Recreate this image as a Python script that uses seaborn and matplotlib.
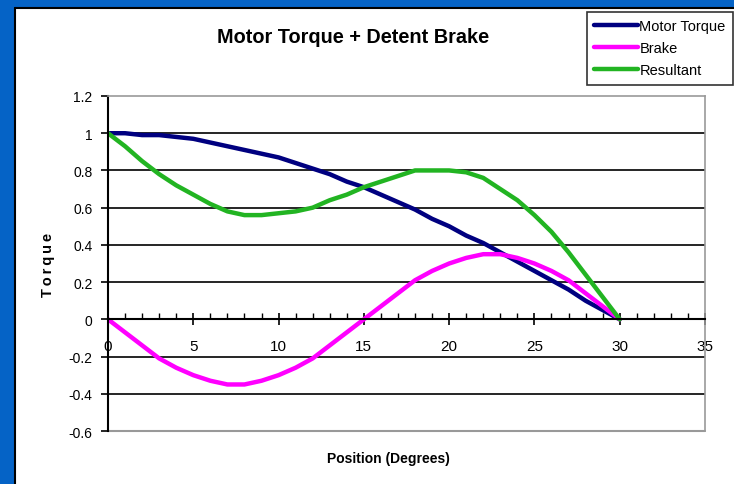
import numpy as np
import pandas as pd
import matplotlib
matplotlib.use('Agg')
import matplotlib.pyplot as plt
import seaborn as sns
from matplotlib.patches import Rectangle
from matplotlib.ticker import MultipleLocator

# positions (degrees)
position = list(range(31))

# values
motor_torque = [1.00, 1.00, 0.99, 0.99, 0.98, 0.97, 0.95, 0.93, 0.91, 0.89,
                0.87, 0.84, 0.81, 0.78, 0.74, 0.71, 0.67, 0.63, 0.59, 0.54,
                0.50, 0.45, 0.41, 0.36, 0.31, 0.26, 0.21, 0.16, 0.10, 0.05, 0.00]
brake = [0.00, -0.07, -0.14, -0.21, -0.26, -0.30, -0.33, -0.35, -0.35, -0.33,
         -0.30, -0.26, -0.21, -0.14, -0.07, 0.00, 0.07, 0.14, 0.21, 0.26,
         0.30, 0.33, 0.35, 0.35, 0.33, 0.30, 0.26, 0.21, 0.14, 0.07, 0.00]
resultant = [1.00, 0.93, 0.85, 0.78, 0.72, 0.67, 0.62, 0.58, 0.56, 0.56,
             0.57, 0.58, 0.60, 0.64, 0.67, 0.71, 0.74, 0.77, 0.80, 0.80,
             0.80, 0.79, 0.76, 0.70, 0.64, 0.56, 0.47, 0.36, 0.24, 0.12, 0.00]

series_names = ['Motor Torque', 'Brake', 'Resultant']
series_colors = ['#000080', '#FF00FF', '#22B422']

sns.set_theme(style='white')
plt.rcParams['font.family'] = ['Liberation Sans', 'DejaVu Sans']
# plain black text like the original spreadsheet chart
plt.rcParams['text.color'] = 'black'
plt.rcParams['axes.labelcolor'] = 'black'
plt.rcParams['xtick.color'] = 'black'
plt.rcParams['ytick.color'] = 'black'

df = pd.DataFrame({'Position': position * 3,
                   'Torque': motor_torque + brake + resultant,
                   'Series': np.repeat(series_names, len(position))})

fig = plt.figure(figsize=(7.34, 4.85), dpi=100)
fig.patch.set_facecolor('white')

# blue frame strips (left and top) and black border of the white panel
fig.add_artist(Rectangle((0, 0), 15 / 734, 1, transform=fig.transFigure,
                         facecolor='#0563C6', edgecolor='none', zorder=0))
fig.add_artist(Rectangle((0, 1 - 9 / 485), 1, 9 / 485, transform=fig.transFigure,
                         facecolor='#0563C6', edgecolor='none', zorder=0))
fig.add_artist(plt.Line2D([15 / 734, 15 / 734], [0, 1 - 9 / 485], transform=fig.transFigure,
                          color='black', lw=1.5))
fig.add_artist(plt.Line2D([15 / 734, 1], [1 - 9 / 485, 1 - 9 / 485], transform=fig.transFigure,
                          color='black', lw=1.5))

ax = fig.add_axes([108 / 734, 1 - 432 / 485, 597 / 734, 335 / 485])
sns.lineplot(data=df, x='Position', y='Torque', hue='Series', palette=series_colors,
             linewidth=3.2, ax=ax, legend=False)

ax.set_xlim(0, 35)
ax.set_ylim(-0.6, 1.2)
ax.set_yticks(np.arange(-0.6, 1.21, 0.2))
ax.set_yticklabels(['-0.6', '-0.4', '-0.2', '0', '0.2', '0.4', '0.6', '0.8', '1', '1.2'],
                   fontsize=10)
ax.set_xticks(range(0, 36, 5))
ax.set_xticklabels([str(v) for v in range(0, 36, 5)], fontsize=10)
ax.xaxis.set_minor_locator(MultipleLocator(1))

for yv in np.arange(-0.4, 1.01, 0.2):
    ax.axhline(yv, color='black', lw=1.2, zorder=0.5)

ax.spines['bottom'].set_position(('data', 0))
ax.spines['bottom'].set_color('black')
ax.spines['bottom'].set_linewidth(1.5)
ax.spines['left'].set_color('black')
ax.spines['left'].set_linewidth(1.5)
for s in ['top', 'right']:
    ax.spines[s].set_color('#999999')
    ax.spines[s].set_linewidth(1.2)
ax.plot([0, 35], [-0.6, -0.6], color='#999999', lw=1.5, clip_on=False, zorder=0.5)

ax.tick_params(axis='y', which='major', direction='out', length=5, width=1.2,
               color='black', left=True, pad=6)
ax.tick_params(axis='x', which='major', direction='inout', length=8, width=1.2,
               color='black', bottom=True, pad=10)
ax.tick_params(axis='x', which='minor', direction='in', length=4, width=1,
               color='black', bottom=True)

ax.set_xlabel('Position (Degrees)', fontsize=10, fontweight='bold', labelpad=0)
ax.xaxis.set_label_coords(0.47, -0.06)
ax.set_ylabel('\u2009'.join('Torque'), fontsize=10.5, fontweight='bold')
ax.yaxis.set_label_coords(-0.088, 0.5)

fig.text(353 / 734, 1 - 38 / 485, 'Motor Torque + Detent Brake', ha='center', va='center',
         fontsize=14.3, fontweight='bold')

# legend box in the top right corner
handles = [plt.Line2D([], [], color=c, lw=3.2) for c in series_colors]
leg = fig.legend(handles, series_names, loc='upper right', bbox_to_anchor=(733 / 734, 1 - 13 / 485),
                 frameon=True, fancybox=False, fontsize=10.5, handlelength=3.0,
                 handletextpad=0.1, borderpad=0.5, labelspacing=0.55, borderaxespad=0)
leg.get_frame().set_edgecolor('black')
leg.get_frame().set_linewidth(1.2)

fig.savefig('out.png', dpi=100)
